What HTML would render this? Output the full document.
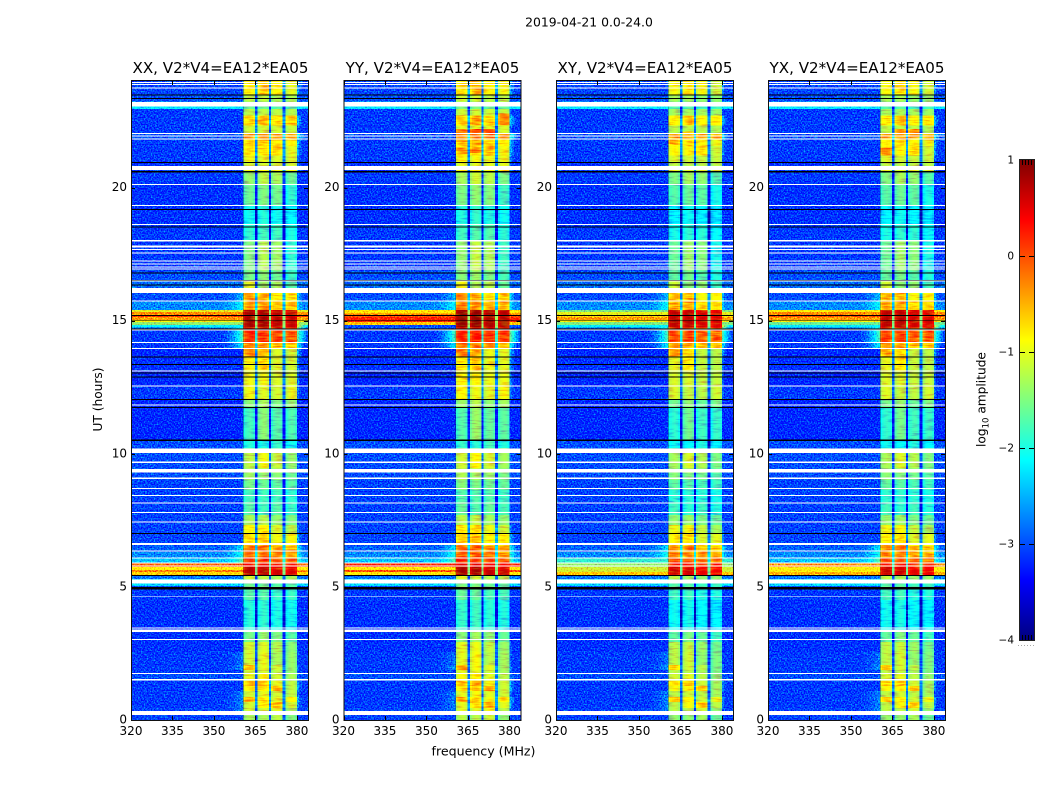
<!DOCTYPE html>
<html>
<head>
<meta charset="utf-8">
<title>2019-04-21 0.0-24.0</title>
<style>
html,body{margin:0;padding:0;background:#fff;width:1050px;height:800px;overflow:hidden}
svg{display:block}
text{font-family:"DejaVu Sans","Liberation Sans",sans-serif;fill:#000}
</style>
</head>
<body>
<svg id="fig" xmlns="http://www.w3.org/2000/svg" width="1050" height="800" viewBox="0 0 1050 800">
  <defs>
    <filter id="speckle" x="0" y="0" width="100%" height="100%" color-interpolation-filters="sRGB">
      <feTurbulence type="fractalNoise" baseFrequency="0.7" numOctaves="1" seed="7" result="n"/>
      <feColorMatrix in="n" type="matrix" values="0 0 0 0 0.5  1 0 0 0 0  0 0 0 0 0.5  0 0 0 0 1" result="m"/>
      <feComposite in="SourceGraphic" in2="m" operator="arithmetic" k1="0" k2="1" k3="1.7" k4="-0.85"/>
    </filter>
    <filter id="speckle-soft" x="0" y="0" width="100%" height="100%" color-interpolation-filters="sRGB">
      <feTurbulence type="fractalNoise" baseFrequency="0.08 0.6" numOctaves="2" seed="3" result="n"/>
      <feColorMatrix in="n" type="matrix" values="0 0 0 0 0.5  1 0 0 0 0  0 0 0 0 0.5  0 0 0 0 1" result="m"/>
      <feComposite in="SourceGraphic" in2="m" operator="arithmetic" k1="0" k2="1" k3="1.0" k4="-0.5"/>
    </filter>
  </defs>
  <rect width="1050" height="800" fill="#fff"/>
  <text x="589" y="26.5" font-size="12.4" text-anchor="middle">2019-04-21 0.0-24.0</text>
  <text x="220.5" y="73" font-size="15.1" text-anchor="middle">XX, V2*V4=EA12*EA05</text>
  <text x="432.5" y="73" font-size="15.1" text-anchor="middle">YY, V2*V4=EA12*EA05</text>
  <text x="645" y="73" font-size="15.1" text-anchor="middle">XY, V2*V4=EA12*EA05</text>
  <text x="857" y="73" font-size="15.1" text-anchor="middle">YX, V2*V4=EA12*EA05</text>
  <text x="483.5" y="755.5" font-size="12.6" text-anchor="middle">frequency (MHz)</text>
  <text x="102" y="399.5" font-size="12.2" text-anchor="middle" transform="rotate(-90 102 399.5)">UT (hours)</text>
  <text x="985.5" y="399.5" font-size="12.2" text-anchor="middle" transform="rotate(-90 985.5 399.5)">log<tspan font-size="8.5" dy="3">10</tspan><tspan dy="-3"> amplitude</tspan></text>
  <g id="panels"></g>
  <g id="colorbar"></g>
</svg>
<script>
// ---- data (hours UT, MHz, log10 amplitude) ----
const panelNames = ['xx','yy','xy','yx'];
const panelLefts = [131,343.5,556,768];
const xTickLabels = [320,335,350,365,380];
const yTickLabels = [0,5,10,15,20];
const colorbarTicks = [1,0,-1,-2,-3,-4];

const timeStart = [
0,.34,.45,.68,.86,1.09,1.28,1.46,1.73,1.88,
2.06,2.55,2.93,3.38,4.50,4.92,5.03,5.14,5.29,5.44,
5.56,5.63,5.74,5.89,6.08,6.31,6.53,6.64,6.98,7.32,
7.70,8.18,8.63,9.01,9.27,9.46,10.02,10.21,10.51,11.75,
12.05,12.54,13.10,13.66,13.96,14.19,14.68,14.75,14.83,14.94,
15.02,15.13,15.20,15.32,15.39,15.73,16.03,16.22,16.52,16.89,
18.02,18.62,19.33,20.12,20.61,20.65,20.95,21.21,21.55,21.81,
22.03,22.33,22.71,22.94,23.05,23.24,23.46];
const timeEnd = 24;

const outBand = [
-3.05,-3.05,-3.1,-3.1,-3.1,-3.1,-3.1,-3.0,-3.1,-3.1,
-3.1,-3.15,-3.15,-3.15,-3.1,-3.0,-2.3,-2.2,-2.8,-.7,
-.25,-.85,-.1,-2.4,-2.7,-2.9,-3,-3.05,-3.05,-3.05,
-3.05,-3.05,-3.05,-3.0,-3.0,-3.0,-3.0,-3.0,-3.2,-3.2,
-3.1,-3.2,-3.15,-3.2,-3.1,-3.1,-2.9,-2.1,-1.4,-.9,
-.4,.1,-.3,-1,-2.7,-3,-3,-2.85,-3,-3.1,
-3.1,-3.15,-3.15,-3.1,-3.1,-3.15,-3.1,-3.1,-3.1,-3.0,
-3.1,-3.1,-3.1,-2.2,-2.8,-3,-3.05];

const subband1 = [
-1.3,-1.1,-1.1,-.5,-1.1,-.8,-.6,-1,-1.1,-.5,
-1.1,-1.1,-1.55,-1.95,-1.7,-1.5,-1.6,-1.3,-1.1,.7,
.75,.7,.4,.1,-.15,-.2,-.4,-.75,-.85,-1.3,
-1.7,-1.8,-1.55,-1.35,-1.3,-1.2,-1.6,-1.95,-1.8,-1.45,
-.95,-.95,-.9,-.3,-.3,.15,.2,.8,.8,.85,
.8,.75,.8,.75,-.35,-.4,-1.1,-1,-1.55,-1.5,
-1.9,-2.05,-1.6,-1.4,-.9,-1.1,-.95,-.75,-.7,-.3,
-1.1,-.7,-1.2,-1.6,-1.3,-1.2,-.8];
const subband2 = [
-1.3,-1.1,-.8,-.7,-1,-.7,-.5,-.9,-1.1,-1,
-1,-1.05,-1.4,-1.9,-1.7,-1.5,-1.6,-1.3,-1.2,.7,
.75,.65,.4,.05,-.15,-.15,-.4,-.6,-.8,-1.25,
-1.8,-1.8,-1.6,-1.4,-1.2,-.95,-1.6,-2,-1.45,-1.3,
-1.05,-.95,-.65,-.55,-.3,.15,.2,.8,.8,.85,
.8,.75,.8,.75,-.35,-.45,-1.1,-1.35,-1.45,-1.25,
-1.8,-1.95,-1.5,-1.2,-.9,-1.1,-1,-.75,-.6,-.3,
-1.1,-.5,-1.2,-1.6,-1.3,-1.2,-.6];
const subband3 = [
-1.2,-1,-.5,-1,-1.1,-.45,-1,-1.1,-1.2,-1.1,
-1.3,-1.25,-1.5,-2,-1.85,-1.6,-1.7,-1.3,-1.3,.6,
.6,.5,.3,-.05,-.3,-.4,-.6,-.95,-1.05,-1.4,
-1.7,-1.8,-1.65,-1.45,-1.3,-1.15,-1.6,-1.85,-1.7,-1.5,
-1.1,-1.05,-1.05,-1.05,-.45,.05,.1,.7,.7,.75,
.7,.65,.7,.65,-.6,-.8,-1.1,-1.3,-1.6,-1.35,
-1.8,-2.05,-1.55,-1.3,-.9,-1.1,-1.05,-.6,-.75,-.3,
-1.1,-.75,-1.2,-1.7,-1.3,-1.3,-.8];
const subband4 = [
-1.5,-1.3,-1.1,-.85,-1.2,-1.2,-1.2,-1.3,-1.4,-1.4,
-1.4,-1.45,-1.7,-2.05,-1.85,-1.7,-1.7,-1.3,-1.3,.55,
.55,.45,.25,-.1,-.35,-.4,-.7,-.9,-1.2,-1.5,
-1.85,-1.9,-1.7,-1.6,-1.5,-1.4,-1.6,-2.05,-1.75,-1.4,
-1,-1.05,-1.1,-1.1,-.55,0,.1,.65,.65,.7,
.65,.6,.65,.6,-.55,-.7,-1.1,-1.7,-1.85,-1.9,
-2,-2.15,-1.9,-1.6,-.9,-1.1,-1.05,-1,-.85,-.4,
-1.15,-.6,-1.25,-1.7,-1.3,-1.3,-1];
const subbands = [subband1,subband2,subband3,subband4];
const subbandStart = [360.6,365.7,370.6,375.8];
const subbandWidth = 4.2;
const channelProfile = [-.22,-.06,0,.04,0,-.12];

const leakHours = [.34,.45,.68,.86,1.88,2.06,5.89,6.08,6.31,6.53,13.96,14.19,14.68,15.39,15.73];
const leakLevels = [-2.7,-2.7,-2.7,-2.7,-2.6,-2.8,-1.6,-1.9,-2.1,-2.3,-2.1,-1.6,-1.7,-2.0,-2.4];

const panelBandOffset = [0,.08,-.12,-.1];

// panel-specific out-of-band rows
const outPatchPanel = [1,1,1,1,1, 1,1,1,1, 2,2,2,2,2,2, 2,2,2,2, 3,3,3,3,3,3, 3,3,3];
const outPatchStart = [15.27,15.16,14.94,14.83,14.68, 5.44,5.56,5.63,5.74, 15.32,15.2,15.13,15.02,14.94,14.83, 5.44,5.56,5.74,5.89, 15.32,15.2,15.13,15.02,14.94,14.83, 5.44,5.56,5.74];
const outPatchEnd   = [15.39,15.27,15.16,14.94,14.83, 5.56,5.63,5.74,5.89, 15.39,15.32,15.2,15.13,15.02,14.94, 5.56,5.74,5.89,6.08, 15.39,15.32,15.2,15.13,15.02,14.94, 5.56,5.74,5.89];
const outPatchLevel = [-.8,-.25,.25,-.6,-3, -.8,0,-.8,.2, -1.5,-1,-.7,-.4,-.9,-1.5, -.6,-1.1,-1.4,-1.9, -.9,-.3,0,-.4,-.9,-1.6, -.5,-.9,-.3];

// panel-specific hot patches inside a subband
const hotPanel = [1,1,1,1,1,1,1, 3,3,3, 2,2];
const hotBand  = [3,1,2,0,0,0,1, 0,1,2, 0,1];
const hotStart = [22.33,22,22,22,21.7,21.25,21.3, 21.2,22,22, 21.6,21.9];
const hotEnd   = [22.78,22.2,22.2,22.2,21.9,21.5,21.5, 21.5,22.2,22.2, 21.8,22.1];
const hotLevel = [-.3,0,0,-.3,-.35,-.35,-.2, -.3,-.35,-.35, -.5,-.5];

// flagged rows
const whiteStart = [.18,1.475,1.72,3.0,3.31,3.44,4.63,5.13,5.76,5.88,6.07,6.32,6.57,7.42,7.78,8.13,8.42,8.67,9.06,9.29,9.66,10.02,11.81,12.52,13.08,13.94,14.16,14.63,15.72,16.04,16.47,16.92,17.0,17.11,17.22,17.52,17.65,17.75,17.98,18.59,19.31,20.09,20.65,21.8,21.91,22.01,23.05,23.71,23.85,23.93];
const whiteEnd   = [.34,1.54,1.76,3.04,3.40,3.48,4.66,5.28,5.80,5.92,6.11,6.36,6.64,7.46,7.82,8.17,8.46,8.71,9.10,9.42,9.70,10.2,11.85,12.56,13.12,13.98,14.2,14.67,15.76,16.22,16.51,16.96,17.04,17.15,17.26,17.56,17.69,17.83,18.02,18.63,19.35,20.13,20.81,21.84,21.95,22.05,23.21,23.75,23.89,23.97];
const blackStart = [4.91,5.41,6.99,10.47,11.72,12.02,12.86,13.01,13.33,13.62,14.67,15.0,15.18,16.32,16.5,16.77,18.5,19.15,20.57,20.92,23.32,23.45];
const blackEnd   = [5.0,5.44,7.03,10.54,11.76,12.06,12.9,13.05,13.37,13.66,14.7,15.03,15.21,16.35,16.53,16.8,18.54,19.19,20.62,20.96,23.36,23.49];

// ---- scales ----
const NS = 'http://www.w3.org/2000/svg';
const plotTop = 81, plotBottom = 720, plotW = 177, fMin = 320, fMax = 384, tMax = 24;
const leakFrom = 352;
const xScale = (left,f) => left + (f-fMin)/(fMax-fMin)*plotW;
const yScale = h => plotBottom - h/tMax*(plotBottom-plotTop);
const clamp = v => Math.max(0,Math.min(1,v));
function jet(v){
  const t = clamp((v+4)/5);
  const r = clamp(Math.min(4*t-1.5,-4*t+4.5));
  const g = clamp(Math.min(4*t-.5,-4*t+3.5));
  const b = clamp(Math.min(4*t+.5,-4*t+2.5));
  return 'rgb('+Math.round(r*255)+','+Math.round(g*255)+','+Math.round(b*255)+')';
}
function mk(parent,tag,attrs){
  const e = document.createElementNS(NS,tag);
  for(const k in attrs) e.setAttribute(k,attrs[k]);
  parent.appendChild(e);
  return e;
}
function rectBetween(parent,left,f0,f1,h0,h1,fill){
  const x0 = xScale(left,f0), x1 = xScale(left,f1), y0 = yScale(h1), y1 = yScale(h0);
  return mk(parent,'rect',{x:x0.toFixed(2),y:y0.toFixed(2),width:(x1-x0).toFixed(2),height:(y1-y0).toFixed(2),fill:fill,'shape-rendering':'crispEdges'});
}
// ---- column layout ----
const columns = [];
columns.push({f0:320,f1:leakFrom,kind:'left'});
for(let f=leakFrom;f<subbandStart[0]-.01;f+=.9) columns.push({f0:f,f1:Math.min(f+.9,subbandStart[0]),kind:'left'});
subbandStart.forEach((s,b)=>{
  const step = subbandWidth/channelProfile.length;
  channelProfile.forEach((p,c)=>columns.push({f0:s+c*step,f1:s+(c+1)*step,kind:'band',band:b,prof:p}));
  if(b<3) columns.push({f0:s+subbandWidth,f1:subbandStart[b+1],kind:'gap'});
});
const lastF = subbandStart[3]+subbandWidth;
for(let f=lastF;f<fMax-.01;f+=.8) columns.push({f0:f,f1:Math.min(f+.8,fMax),kind:'right'});

function cellLevel(col,row,panel){
  const out = outBand[row];
  const mean = subbands.reduce((a,s)=>a+s[row],0)/4 + panelBandOffset[panel];
  if(col.kind==='band') return subbands[col.band][row]+panelBandOffset[panel]+col.prof;
  if(col.kind==='gap') return mean*.8-2;
  if(col.kind==='right') return Math.max(out,mean-1.8-(col.f0-lastF)*.4);
  const li = leakHours.indexOf(timeStart[row]);
  if(li<0 || leakLevels[li]<=out || col.f0<leakFrom) return out;
  const t = ((col.f0+col.f1)/2-leakFrom)/(subbandStart[0]-leakFrom);
  return out+(leakLevels[li]-out)*t*t;
}

// ---- panels ----
const panelsG = document.getElementById('panels');
panelNames.forEach((name,p)=>{
  const left = panelLefts[p];
  const g = mk(panelsG,'g',{});
  
  
  const outCells = mk(g,'g',{filter:'url(#speckle)'});
  
  
  const bandCells = mk(g,'g',{filter:'url(#speckle-soft)'});
  
  
  timeStart.forEach((h0,r)=>{
    const h1 = r+1<timeStart.length ? timeStart[r+1] : timeEnd;
    columns.forEach(col=>{
      const holder = (col.kind==='left'||col.kind==='right') ? outCells : bandCells;
      const c = rectBetween(holder,left,col.f0,col.f1,h0,h1,jet(cellLevel(col,r,p)));
      
      
    });
  });
  outPatchPanel.forEach((pp,i)=>{
    if(pp!==p) return;
    const a = rectBetween(outCells,left,fMin,subbandStart[0],outPatchStart[i],outPatchEnd[i],jet(outPatchLevel[i]));
    
    
    const b = rectBetween(outCells,left,lastF,fMax,outPatchStart[i],outPatchEnd[i],jet(outPatchLevel[i]));
    
    
  });
  hotPanel.forEach((pp,i)=>{
    if(pp!==p) return;
    const step = subbandWidth/channelProfile.length;
    channelProfile.forEach((prof,c)=>{
      const s = subbandStart[hotBand[i]]+c*step;
      const e = rectBetween(bandCells,left,s,s+step,hotStart[i],hotEnd[i],jet(hotLevel[i]+prof));
      
      
    });
  });
  whiteStart.forEach((s,i)=>{
    const e = rectBetween(g,left,fMin,fMax,s,whiteEnd[i],'#fff');
    
    
  });
  blackStart.forEach((s,i)=>{
    const e = rectBetween(g,left,fMin,fMax,s,blackEnd[i],'#000');
    
    
  });
  xTickLabels.forEach(t=>{
    const x = Math.round(xScale(left,t))+.5;
    const a = mk(g,'line',{x1:x,x2:x,y1:plotBottom,y2:plotBottom-4,stroke:'#000','stroke-width':1});
    
    
    const b = mk(g,'line',{x1:x,x2:x,y1:plotTop,y2:plotTop+4,stroke:'#000','stroke-width':1});
    
    
    const tx = mk(g,'text',{x:xScale(left,t),y:735,'font-size':12,'text-anchor':'middle'});
    
    
    tx.textContent = t;
  });
  yTickLabels.forEach(t=>{
    const y = Math.round(yScale(t))+.5;
    const a = mk(g,'line',{x1:left,x2:left+4,y1:y,y2:y,stroke:'#000','stroke-width':1});
    
    
    const b = mk(g,'line',{x1:left+plotW,x2:left+plotW-4,y1:y,y2:y,stroke:'#000','stroke-width':1});
    
    
    const tx = mk(g,'text',{x:left-4,y:yScale(t)+3.5,'font-size':12,'text-anchor':'end'});
    
    
    tx.textContent = t;
  });
  const frame = mk(g,'rect',{x:left+.5,y:plotTop-.5,width:plotW,height:plotBottom-plotTop+1,fill:'none',stroke:'#111','stroke-width':1});
  
  
});

// ---- colorbar ----
const cb = document.getElementById('colorbar');
const cbX = 1020, cbW = 14, cbTop = 160, cbBottom = 640, cbMin = -4, cbMax = 1;
const cbY = v => cbBottom-(v-cbMin)/(cbMax-cbMin)*(cbBottom-cbTop);
for(let y=cbTop;y<cbBottom;y++){
  const v = cbMax-(y+.5-cbTop)/(cbBottom-cbTop)*(cbMax-cbMin);
  const r = mk(cb,'rect',{x:cbX,y:y,width:cbW,height:1,fill:jet(v),'shape-rendering':'crispEdges'});
  
  
}
colorbarTicks.forEach(t=>{
  const y = Math.round(cbY(t))+.5;
  if(t!==cbMin && t!==cbMax){
    const a = mk(cb,'line',{x1:cbX,x2:cbX+5,y1:y,y2:y,stroke:'#000'});
    
    
    const b = mk(cb,'line',{x1:cbX+cbW,x2:cbX+cbW-5,y1:y,y2:y,stroke:'#000'});
    
    
  }
  const tx = mk(cb,'text',{x:1014,y:cbY(t)+3.5,'font-size':10.5,'text-anchor':'end'});
  
  
  tx.textContent = t<0 ? '\u2212'+Math.abs(t) : String(t);
});
[1022.5,1025.5,1028.5,1031.5].forEach(x=>{
  const a = mk(cb,'line',{x1:x,x2:x,y1:cbTop,y2:cbTop+5,stroke:'#000'});
  
  
  const b = mk(cb,'line',{x1:x,x2:x,y1:cbBottom,y2:cbBottom-5,stroke:'#000'});
  
  
});
[1018,1021,1024,1027,1030,1033].forEach(x=>{
  const d = mk(cb,'rect',{x:x,y:645,width:1,height:1,fill:'#aaa'});
  
  
});
const cbFrame = mk(cb,'rect',{x:cbX-.5,y:cbTop-.5,width:cbW+1,height:cbBottom-cbTop+1,fill:'none',stroke:'#222'});


</script>
</body>
</html>
